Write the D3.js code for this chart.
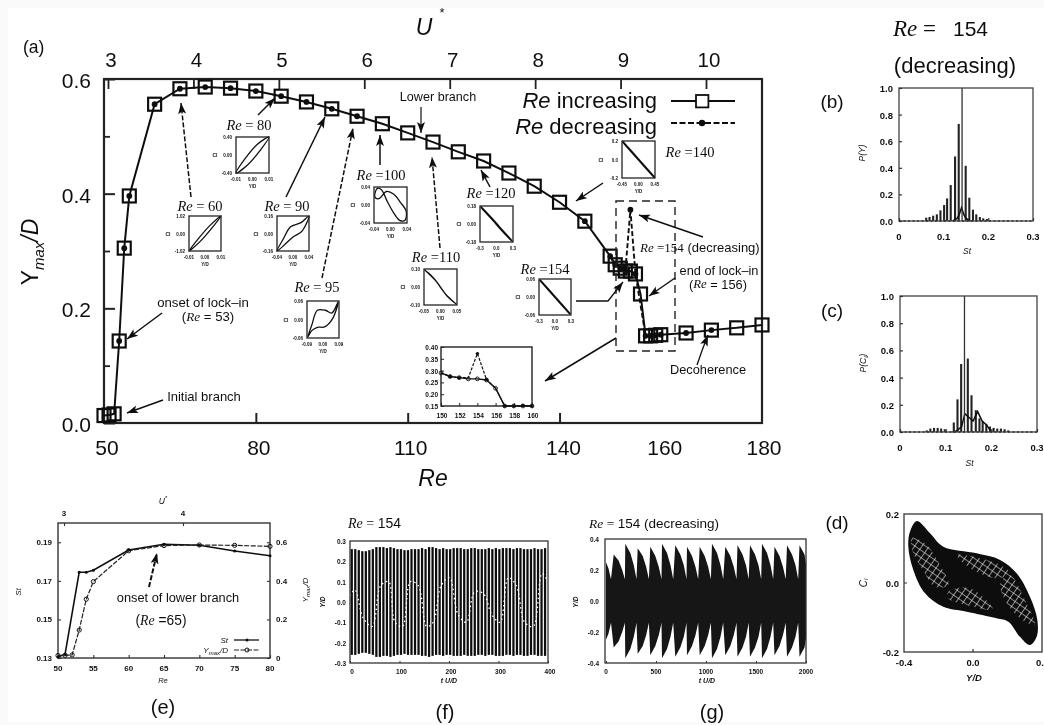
<!DOCTYPE html>
<html><head><meta charset="utf-8">
<style>html,body{margin:0;padding:0;background:#fafafa}svg{display:block}text{font-family:"Liberation Sans",Arial,sans-serif;fill:#111}</style>
<script src="https://d3js.org/d3.v7.min.js"></script></head><body>
<svg id="c" width="1044" height="725"></svg>
<script>
// ---------- main panel (a)
const reInc=[50,51,52,53,54,55,60,65,70,75,80,85,90,95,100,105,110,115,120,125,130,135,140,145,150,151,152,153,154,155,156,157,158,159,160,165,170,175,180];
const yInc=[.013,.014,.016,.143,.305,.396,.556,.583,.586,.584,.579,.570,.560,.548,.535,.522,.506,.490,.473,.457,.436,.413,.385,.352,.291,.276,.270,.265,.265,.260,.225,.152,.152,.153,.154,.157,.162,.166,.171];
const reDec=[53,54,55,60,65,70,75,80,85,90,95,100,145,150,151,152,153,154,155,157,158,159,160,165,170];
const yDec=[.143,.305,.396,.556,.583,.586,.584,.579,.570,.560,.548,.535,.352,.291,.276,.270,.265,.372,.260,.152,.152,.153,.154,.157,.162];
const reTicks=[50,80,110,140,160,180], uTicks=[3,4,5,6,7,8,9,10], yTicks=[0,.2,.4,.6], yMinor=[.1,.3,.5];
// ---------- zoomed inset 150-160
const zoomRe=[150,151,152,153,154,155,156,157,158,159,160];
const zoomInc=[.29,.275,.27,.265,.265,.26,.225,.15,.15,.15,.15];
const zoomDecRe=[150,151,152,153,154,155,156,157,158,159,160];
const zoomDec=[.29,.275,.27,.27,.372,.262,.225,.15,.15,.152,.15];
const zoomYTicks=[.15,.2,.25,.3,.35,.4], zoomXTicks=[150,152,154,156,158,160];
// ---------- small phase-portrait insets
const loops={
 re60:[[-1,-1],[-.4,-.28],[.3,.45],[1,1],[.4,.28],[-.3,-.45]],
 re80:[[-1,-1],[-.45,-.2],[.3,.6],[1,1],[.5,.3],[-.3,-.55]],
 re90:[[-1,-1],[-.6,-.3],[-.15,.38],[.5,.62],[1,1],[.55,.12],[0,-.2],[-.5,-.62]],
 re95:[[-.95,-.95],[-.7,-.3],[-.35,.5],[.15,.5],[.55,.35],[.95,.95],[.6,.05],[.1,-.4],[-.35,-.42],[-.7,-.6]],
 re100:[[-.95,.45],[-.8,.92],[-.55,.85],[-.2,.2],[.2,-.45],[.55,-.85],[.88,-.85],[.95,-.35],[.6,.15],[.2,.6],[-.25,.75],[-.7,.35]],
 re110:[[-.95,.95],[-.3,.36],[.4,-.5],[.95,-.95],[.3,-.38],[-.4,.48]],
 re120:[[-.95,.95],[-.2,.2],[.3,-.32],[.95,-.95],[.2,-.2],[-.3,.32]],
 re140:[[-.95,.95],[0,.01],[.95,-.95],[0,-.01]],
 re154:[[-.95,.95],[0,.01],[.95,-.95],[0,-.01]]};
const insetNames=["re60","re80","re90","re95","re100","re110","re120","re140","re154"];
const insetTitles=["60","80","90","95","100","110","120","140","154"];
const insetXLabels=[["-0.01","0.00","0.01"],["-0.01","0.00","0.01"],["-0.04","0.00","0.04"],["-0.09","0.00","0.09"],["-0.04","0.00","0.04"],["-0.05","0.00","0.05"],["-0.3","0.0","0.3"],["-0.45","0.00","0.45"],["-0.3","0.0","0.3"]];
const insetYLabels=[["1.02","0.00","-1.02"],["0.40","0.00","-0.40"],["0.16","0.00","-0.16"],["0.06","0.00","-0.06"],["0.04","0.00","-0.04"],["0.10","0.00","-0.10"],["0.18","0.00","-0.18"],["0.2","0.0","-0.2"],["0.06","0.00","-0.06"]];
// ---------- (b)
const bSt=[.0609,.0683,.0765,.0847,.0928,.101,.1077,.1158,.1255,.1337,.1493,.1574,.1656,.173,.181,.1886,.1968];
const bP=[.025,.03,.04,.05,.08,.12,.17,.27,.485,.73,.415,.175,.085,.05,.03,.02,.015];
const bPeakSt=[.12,.13,.135,.14,.145,.15,.16], bPeakP=[0,.02,.05,.1,.05,.02,0];
const lockSt=[.1412];
// ---------- (c)
const cSt=[.0585,.0665,.0745,.0825,.09,.098,.1178,.1259,.1339,.1485,.1566,.166,.174,.181,.189,.197,.205,.213,.221,.229,.237];
const cP=[.012,.025,.03,.03,.025,.02,.07,.24,.5,.54,.27,.16,.10,.08,.06,.04,.03,.025,.025,.02,.012];
const cPeakSt=[.115,.125,.135,.142,.15,.16,.17,.18,.19,.2], cPeakP=[0,.01,.04,.135,.11,.08,.15,.08,.05,0];
const stTicks=[0,.1,.2,.3], stLabels=["0","0.1","0.2","0.3"], pTicks=[0,.2,.4,.6,.8,1];
// ---------- (d)
const dOutX=[-.326,-.365,-.375,-.346,-.278,-.172,-.037,.137,.205,.272,.33,.369,.373,.33,.253,.157,.021,-.172,-.249];
const dOutY=[.18,.149,.105,.038,-.03,-.069,-.083,-.102,-.112,-.156,-.18,-.156,-.107,-.04,.028,.067,.086,.105,.144];
const dLobes=[
 [[-.355,.13],[-.278,.115],[-.191,.052],[-.143,-.006],[-.22,-.011],[-.297,.043],[-.346,.086]],
 [[.157,-.001],[.214,.023],[.301,-.049],[.359,-.122],[.272,-.102],[.186,-.049]],
 [[-.095,.081],[.137,.057],[.214,.028],[.137,.014],[-.017,.043]],
 [[-.143,-.025],[-.017,-.015],[.118,-.078],[-.037,-.064],[-.143,-.044]]];
// ---------- (e)
const eRe=[50,51,53,54,55,60,65,70,75,80], eSt=[.1305,.132,.1745,.1745,.1755,.186,.189,.1885,.1855,.183];
const eYRe=[50,51,52,53,54,55,60,65,70,75,80], eY=[.013,.014,.016,.145,.305,.396,.556,.583,.586,.584,.579];
const eXTicks=[50,55,60,65,70,75,80], eStTicks=[.13,.15,.17,.19], eYTicks=[0,.2,.4,.6];
// ---------- (f)
const fT=[3.5,10.6,17.7,24.8,31.9,39,46.1,53.2,60.3,67.4,74.5,81.6,88.7,95.8,102.9,110,117.1,124.2,131.3,138.4,145.5,152.6,159.7,166.8,173.9,181,188.1,195.2,202.3,209.4,216.5,223.6,230.7,237.8,244.9,252,259.1,266.2,273.3,280.4,287.5,294.6,301.7,308.8,315.9,323,330.1,337.2,344.3,351.4,358.5,365.6,372.7,379.8,386.9,394];
const fHi=[.26,.26,.255,.25,.25,.255,.26,.27,.27,.27,.265,.27,.265,.26,.26,.255,.255,.26,.26,.26,.265,.26,.27,.27,.265,.26,.265,.26,.26,.265,.265,.265,.26,.26,.265,.265,.26,.26,.26,.265,.26,.265,.26,.265,.265,.265,.26,.265,.265,.26,.26,.26,.265,.26,.26,.265];
const fLo=[-.26,-.26,-.255,-.25,-.25,-.255,-.26,-.27,-.27,-.265,-.265,-.27,-.265,-.26,-.26,-.255,-.26,-.26,-.26,-.26,-.265,-.265,-.27,-.265,-.26,-.26,-.265,-.26,-.26,-.265,-.265,-.265,-.26,-.265,-.265,-.265,-.26,-.26,-.265,-.26,-.26,-.265,-.265,-.265,-.26,-.26,-.265,-.26,-.26,-.265,-.265,-.26,-.26,-.265,-.265,-.265];
const fWaveT=[0,10,27,45,62,78,91,106,122,138,155,168,184,201,218,235,252,270,286,303,320,336,353,370,388,400];
const fWaveY=[.03,.06,-.08,-.12,.08,.1,-.1,-.12,.1,.08,-.12,-.1,.08,.12,-.06,-.1,.05,.04,-.06,-.1,.12,.08,-.1,-.12,.14,.1];
const fXTicks=[0,100,200,300,400], fYTicks=[-.3,-.2,-.1,0,.1,.2,.3];
// ---------- (g)
const gT=[0,25,50,77,127,162,189,193,243,278,305,317,367,402,429,443,493,528,555,560,610,645,672,693,743,778,805,810,860,895,922,937,987,1022,1049,1060,1110,1145,1172,1193,1243,1278,1305,1315,1365,1400,1427,1440,1490,1525,1552,1560,1610,1645,1672,1685,1735,1770,1797,1810,1860,1895,1922,1935,1985,2000];
const gY=[.25,.21,.14,.30,.26,.2,.14,.37,.31,.23,.14,.34,.29,.22,.14,.35,.29,.22,.14,.37,.31,.23,.14,.36,.3,.23,.14,.35,.29,.22,.14,.35,.29,.22,.14,.37,.31,.23,.14,.35,.29,.22,.14,.36,.3,.23,.14,.36,.3,.23,.14,.37,.31,.23,.14,.35,.29,.22,.14,.36,.3,.23,.14,.36,.3,.24];
const gXTicks=[0,500,1000,1500,2000], gYTicks=[-.4,-.2,0,.2,.4];

// ---------- helpers
const svg=d3.select("#c");
const defs=svg.append("defs");
defs.append("filter").attr("id","soft").attr("x",0).attr("y",0).attr("width",1).attr("height",1)
  .attr("filterUnits","objectBoundingBox").append("feGaussianBlur").attr("stdDeviation",.45);
defs.append("marker").attr("id","ah").attr("markerUnits","userSpaceOnUse").attr("markerWidth",12).attr("markerHeight",10)
  .attr("refX",11).attr("refY",4).attr("orient","auto").append("path").attr("d","M0,0L11,4L0,8L2.5,4Z").attr("fill","#111");
const mesh=defs.append("pattern").attr("id","mesh").attr("patternUnits","userSpaceOnUse").attr("width",6).attr("height",6).attr("patternTransform","rotate(35)");
mesh.append("path").attr("d","M0,0H6M0,0V6").attr("stroke","#fff").attr("stroke-width",1.1).attr("fill","none");
const root=svg.append("g").attr("filter","url(#soft)");
root.append("rect").attr("x",8).attr("y",8).attr("width",1036).attr("height",714).attr("fill","#fff");
const SERIF='"Liberation Serif",serif';
function txt(x,y,parts,o={}){
  const t=root.append("text").attr("x",x).attr("y",y).attr("text-anchor",o.a||"middle").attr("dominant-baseline","central")
    .attr("font-size",o.s||11).attr("font-weight",o.w||"normal");
  if(o.r!==undefined)t.attr("transform",`rotate(${o.r} ${x} ${y})`);
  (Array.isArray(parts)?parts:[parts]).forEach(p=>{
    const q=typeof p==="string"?{t:p}:p;
    const s=t.append("tspan").text(q.t);
    if(q.i)s.attr("font-style","italic");
    if(q.serif)s.style("font-family",SERIF);
    if(q.sub)s.attr("baseline-shift","sub").attr("font-size",q.sub);
    if(q.sup)s.attr("baseline-shift","super").attr("font-size",q.sup);
  });
  return t;
}
function arrow(x1,y1,x2,y2,dash,w){
  root.append("path").attr("d",`M${x1},${y1}L${x2},${y2}`).attr("stroke","#111").attr("stroke-width",w||1.5)
   .attr("fill","none").attr("marker-end","url(#ah)").attr("stroke-dasharray",dash?"5 2":null);
}
function styleAxis(g,size,weight,col,sw){
  g.selectAll(".domain").remove();
  g.selectAll("line").attr("stroke",col).attr("stroke-width",sw);
  g.selectAll("text").remove();
}
function frame(x0,y0,x1,y1,sw,col){
  root.append("rect").attr("x",x0).attr("y",y0).attr("width",x1-x0).attr("height",y1-y0).attr("fill","none").attr("stroke",col||"#222").attr("stroke-width",sw);
}

// ---------- panel (a)
const L=104,R=762,T=79,B=423;
const x=d3.scaleLinear([50,180],[L,R]), y=d3.scaleLinear([0,.6],[B,T]), u=d3.scaleLinear([3,10],[108,706]);
frame(L,T,R,B,2.2);
styleAxis(root.append("g").attr("transform",`translate(0,${B})`).call(d3.axisBottom(x).tickValues(reTicks.slice(1,4)).tickSize(-10)),0,"normal","#222",2);
const reLabelShift=[3,3,3,4,4,2];
reTicks.forEach((v,i)=>txt(x(v)+reLabelShift[i],447,String(v),{s:21}));
styleAxis(root.append("g").attr("transform",`translate(0,${T})`).call(d3.axisTop(u).tickValues(uTicks).tickSize(-10)),0,"normal","#222",1.8);
uTicks.forEach(v=>txt(u(v)+3,59,String(v),{s:20.5}));
styleAxis(root.append("g").attr("transform",`translate(${L},0)`).call(d3.axisLeft(y).tickValues(yTicks).tickSize(-11)),0,"normal","#222",2);
styleAxis(root.append("g").attr("transform",`translate(${L},0)`).call(d3.axisLeft(y).tickValues(yMinor).tickSize(-6)),0,"normal","#222",1.8);
yTicks.forEach(v=>txt(91,y(v)+1,v.toFixed(1),{s:21,a:"end"}));
txt(23,47,"(a)",{s:17.5,a:"start"});
txt(433,478,[{t:"Re",i:1}],{s:23});
txt(424,27,[{t:"U",i:1}],{s:23}); txt(442,12,"*",{s:13});
txt(30,252,[{t:"Y"},{t:"max",i:1,sub:15},{t:"/D",i:1}],{s:23,r:-90});

const line=d3.line().x(d=>x(d[0])).y(d=>y(d[1]));
root.append("path").attr("d",line(d3.zip(reInc,yInc))).attr("fill","none").attr("stroke","#111").attr("stroke-width",2);
root.append("path").attr("d",line(d3.zip(reDec,yDec).filter(d=>d[0]>=150&&d[0]<=157))).attr("fill","none").attr("stroke","#111").attr("stroke-width",1.9).attr("stroke-dasharray","5 2.5");
root.append("g").selectAll("rect").data(d3.zip(reInc,yInc)).join("rect")
  .attr("x",d=>x(d[0])-6.5).attr("y",d=>y(d[1])-6.5).attr("width",13).attr("height",13)
  .attr("fill","none").attr("stroke","#111").attr("stroke-width",2.2);
root.append("g").selectAll("circle").data(d3.zip(reDec,yDec)).join("circle")
  .attr("cx",d=>x(d[0])).attr("cy",d=>y(d[1])).attr("r",2.9).attr("fill","#111");

// legend
txt(657,100,[{t:"Re",i:1}," increasing"],{s:22,a:"end"});
txt(657,125.5,[{t:"Re",i:1}," decreasing"],{s:22,a:"end"});
root.append("path").attr("d","M671,101H735").attr("stroke","#111").attr("stroke-width",1.8);
root.append("rect").attr("x",696).attr("y",95).attr("width",12.4).attr("height",12.4).attr("fill","#fff").attr("stroke","#111").attr("stroke-width",1.8);
root.append("path").attr("d","M671,123H735").attr("stroke","#111").attr("stroke-width",1.8).attr("stroke-dasharray","6 2.5");
root.append("circle").attr("cx",702).attr("cy",123).attr("r",3.2).attr("fill","#111");

// dashed selection box
root.append("rect").attr("x",616).attr("y",201).attr("width",59).attr("height",150).attr("fill","none").attr("stroke","#222").attr("stroke-width",1.4).attr("stroke-dasharray","8 5");

// insets
const insetBoxes=[[189,216,221,251],[236,137,269,173],[277,216,309,251],[307,301,339,338],[374,187,407,223],[424,269,457,305],[480,206,513,242],[622,141,655,178],[539,279,571,315]];
const insetTitlePos=[[200,206],[249,125],[287,206],[317,287],[381,175],[436,257],[491,193],[690,152],[545,269]];
insetNames.forEach((n,i)=>{
  const [a,b,c,d]=insetBoxes[i];
  const sx=d3.scaleLinear([-1,1],[a,c]), sy=d3.scaleLinear([-1,1],[d,b]);
  root.append("path").datum(loops[n]).attr("d",d3.line().x(p=>sx(p[0])).y(p=>sy(p[1])).curve(d3.curveCatmullRomClosed.alpha(.5)))
    .attr("fill","none").attr("stroke","#111").attr("stroke-width",i>=6?2:1.3);
  frame(a,b,c,d,1.3);
  const mx=(a+c)/2,my=(b+d)/2;
  [b,my,d].forEach((yy,k)=>txt(a-4,yy,insetYLabels[i][k],{s:4.5,a:"end",w:"bold"}));
  [a,mx,c].forEach((xx,k)=>txt(xx,d+6,insetXLabels[i][k],{s:4.5,w:"bold"}));
  txt(mx,d+13,"Y/D",{s:4.5,w:"bold"});
  txt(a-21,my,"Cl",{s:5,w:"bold"});
  txt(insetTitlePos[i][0],insetTitlePos[i][1],[{t:"Re",i:1,serif:1},{t:" ="+(i<4?" ":"")+insetTitles[i],serif:1}],{s:14.5});
});

// 150-160 zoom inset
const zx=d3.scaleLinear([150,160],[441,532]), zy=d3.scaleLinear([.15,.4],[406,347]);
frame(441,347,532,406,1.4);
const zl=d3.line().x(d=>zx(d[0])).y(d=>zy(d[1]));
root.append("path").attr("d",zl(d3.zip(zoomRe,zoomInc))).attr("fill","none").attr("stroke","#111").attr("stroke-width",1.4);
root.append("path").attr("d",zl(d3.zip(zoomDecRe,zoomDec))).attr("fill","none").attr("stroke","#111").attr("stroke-width",1.2).attr("stroke-dasharray","3 1.5");
root.append("g").selectAll("circle").data(d3.zip(zoomRe,zoomInc)).join("circle").attr("cx",d=>zx(d[0])).attr("cy",d=>zy(d[1])).attr("r",1.9).attr("fill","none").attr("stroke","#111").attr("stroke-width",.9);
root.append("g").selectAll("circle").data(d3.zip(zoomDecRe,zoomDec).filter(d=>![150,153,156].includes(d[0]))).join("circle").attr("cx",d=>zx(d[0])).attr("cy",d=>zy(d[1])).attr("r",1.7).attr("fill","#111");
zoomYTicks.forEach(v=>txt(438,zy(v),v.toFixed(2),{s:6.5,a:"end",w:"bold"}));
zoomXTicks.forEach(v=>txt(zx(v)+1,415,String(v),{s:6.5,w:"bold"}));
styleAxis(root.append("g").attr("transform","translate(0,406)").call(d3.axisBottom(zx).tickValues(zoomXTicks).tickSize(-3)),0,"normal","#222",1);
styleAxis(root.append("g").attr("transform","translate(441,0)").call(d3.axisLeft(zy).tickValues(zoomYTicks).tickSize(-3)),0,"normal","#222",1);

// annotations
arrow(191,197,181,103,true,1.5); arrow(258,115,275,98); arrow(286,197,325,117);
arrow(322,278,353,128,true,1.5); arrow(380,165,380,135); arrow(421,107,421,133,false,1.2);
arrow(440,248,432,157,true,1.5); arrow(490,187,481,170); arrow(603,183,576,201);
arrow(703,237,639,215); arrow(675,278,649,296); arrow(616,338,545,381);
arrow(162,313,127,339); arrow(163,400,127,413);
root.append("path").attr("d","M697,365Q702,350 708,335").attr("stroke","#111").attr("stroke-width",1.3).attr("fill","none").attr("marker-end","url(#ah)");
root.append("path").attr("d","M576,301H608L623,282").attr("stroke","#111").attr("stroke-width",1.3).attr("fill","none").attr("marker-end","url(#ah)");
txt(438,97,"Lower branch",{s:12.6});
txt(640,247,[{t:"Re",i:1,serif:1},{t:" =154",serif:1}," (decreasing)"],{s:13,a:"start"});
txt(719,270,"end of lock\u2013in",{s:12.8}); txt(718,284,["(",{t:"Re",i:1,serif:1}," = 156)"],{s:12.8});
txt(708,369,"Decoherence",{s:12.8});
txt(203,302,"onset of lock\u2013in",{s:13.2}); txt(208,316,["(",{t:"Re",i:1,serif:1}," = 53)"],{s:13.2});
txt(204,396,"Initial branch",{s:13});

// ---------- spectra (b), (c)
function spectrum(x0,x1,y0,y1,sts,ps,pkS,pkP,ylab,yly,xlabY){
  const sx=d3.scaleLinear([0,.3],[x0,x1]), sy=d3.scaleLinear([0,1],[y1,y0]);
  root.append("g").selectAll("line").data(d3.zip(sts,ps)).join("line").attr("x1",d=>sx(d[0])).attr("x2",d=>sx(d[0])).attr("y1",y1).attr("y2",d=>sy(d[1])).attr("stroke","#222").attr("stroke-width",2.1);
  root.append("path").attr("d",d3.line().x(d=>sx(d[0])).y(d=>sy(d[1]))(d3.zip(pkS,pkP))).attr("fill","none").attr("stroke","#111").attr("stroke-width",1.5);
  root.append("line").attr("x1",sx(lockSt[0])).attr("x2",sx(lockSt[0])).attr("y1",y0).attr("y2",y1).attr("stroke","#333").attr("stroke-width",1.3);
  root.append("line").attr("x1",x0).attr("x2",x1).attr("y1",y1).attr("y2",y1).attr("stroke","#111").attr("stroke-width",1.6).attr("stroke-dasharray","2 2.5");
  frame(x0,y0,x1,y1,1.3,"#444");
  styleAxis(root.append("g").attr("transform",`translate(${x0},0)`).call(d3.axisLeft(sy).tickValues(pTicks).tickSize(-3)),0,"normal","#333",1.2);
  styleAxis(root.append("g").attr("transform",`translate(0,${y1})`).call(d3.axisBottom(sx).tickValues(stTicks).tickSize(-3)),0,"normal","#333",1.2);
  pTicks.forEach(v=>txt(x0-6,sy(v),v.toFixed(1),{s:9.5,a:"end",w:"bold"}));
  stTicks.forEach((v,i)=>txt(sx(v),y1+15,stLabels[i],{s:9.5,w:"bold"}));
  txt(x0-37,yly,ylab,{s:8.5,r:-90});
  txt((x0+x1)/2+1,xlabY,[{t:"St",i:1}],{s:8.5});
}
spectrum(899,1033,88,221,bSt,bP,bPeakSt,bPeakP,[{t:"P(Y)",i:1}],153,251);
spectrum(900,1037,296,432,cSt,cP,cPeakSt,cPeakP,[{t:"P(C",i:1},{t:"l",i:1,sub:6},{t:")",i:1}],363,463);
txt(893,28,[{t:"Re",i:1,serif:1},{t:" =",serif:1}],{s:23,a:"start"});
txt(953,28,"154",{s:21,a:"start"});
txt(955,65,"(decreasing)",{s:22});
txt(832,101,"(b)",{s:19}); txt(832,310,"(c)",{s:19}); txt(837,522,"(d)",{s:19});

// ---------- (d)
const dx=d3.scaleLinear([-.4,.4],[904,1042]), dy=d3.scaleLinear([-.2,.2],[652,514]);
const dl=d3.line().x(d=>dx(d[0])).y(d=>dy(d[1])).curve(d3.curveCatmullRomClosed.alpha(.5));
root.append("path").attr("d",dl(d3.zip(dOutX,dOutY))).attr("fill","#0d0d0d");
dLobes.forEach(p=>root.append("path").attr("d",dl(p)).attr("fill","url(#mesh)"));
frame(904,514,1042,652,1.4,"#444");
[[.2,"0.2"],[0,"0.0"],[-.2,"-0.2"]].forEach(([v,s])=>txt(899,dy(v),s,{s:9.5,a:"end",w:"bold"}));
[[-.4,"-0.4"],[0,"0.0"],[.4,"0.4"]].forEach(([v,s])=>txt(v===.4?1044:dx(v),662,v===.4?"0.":s,{s:9.5,w:"bold",a:v===.4?"end":"middle"}));
txt(974,677,[{t:"Y/D",i:1}],{s:9.5,w:"bold"});
txt(863,583,[{t:"C",i:1},{t:"l",i:1,sub:6}],{s:10,r:-90});
root.append("path").attr("d","M904,583h3M973,652v-3").attr("stroke","#333").attr("stroke-width",1.2);

// ---------- (e)
const ex=d3.scaleLinear([50,80],[58,270]), eys=d3.scaleLinear([.13,.2],[658,523]), eyy=d3.scaleLinear([0,.7],[658,523]), eu=d3.scaleLinear([3,4],[64,183]);
frame(58,523,270,658,1.4,"#333");
styleAxis(root.append("g").attr("transform","translate(0,658)").call(d3.axisBottom(ex).tickValues(eXTicks).tickSize(-3)),0,"normal","#333",1.1);
styleAxis(root.append("g").attr("transform","translate(58,0)").call(d3.axisLeft(eys).tickValues(eStTicks).tickSize(-3)),0,"normal","#333",1.1);
styleAxis(root.append("g").attr("transform","translate(270,0)").call(d3.axisRight(eyy).tickValues(eYTicks).tickSize(-3)),0,"normal","#333",1.1);
styleAxis(root.append("g").attr("transform","translate(0,523)").call(d3.axisTop(eu).tickValues([3,4]).tickSize(-3)),0,"normal","#333",1.1);
root.append("path").attr("d",d3.line().x(d=>ex(d[0])).y(d=>eys(d[1]))(d3.zip(eRe,eSt))).attr("fill","none").attr("stroke","#111").attr("stroke-width",1.6);
root.append("path").attr("d",d3.line().x(d=>ex(d[0])).y(d=>eyy(d[1]))(d3.zip(eYRe,eY))).attr("fill","none").attr("stroke","#222").attr("stroke-width",1.2).attr("stroke-dasharray","5 1.5");
root.append("g").selectAll("circle").data(d3.zip(eRe,eSt)).join("circle").attr("cx",d=>ex(d[0])).attr("cy",d=>eys(d[1])).attr("r",1.5).attr("fill","#111");
root.append("g").selectAll("circle").data(d3.zip(eYRe,eY)).join("circle").attr("cx",d=>ex(d[0])).attr("cy",d=>eyy(d[1])).attr("r",2.1).attr("fill","none").attr("stroke","#111").attr("stroke-width",1);
eXTicks.forEach(v=>txt(ex(v),668,String(v),{s:8,w:"bold"}));
eStTicks.forEach(v=>txt(52,eys(v),v.toFixed(2),{s:8,a:"end",w:"bold"}));
eYTicks.forEach(v=>txt(276,eyy(v),v===0?"0":v.toFixed(1),{s:8,a:"start",w:"bold"}));
txt(64,513,"3",{s:8,w:"bold"}); txt(183,513,"4",{s:8,w:"bold"});
txt(163,501,[{t:"U",i:1},{t:"*",sup:6}],{s:8.5});
txt(163,680,[{t:"Re",i:1}],{s:7.5});
txt(18,592,[{t:"St",i:1}],{s:8,r:-90});
txt(305,590,[{t:"Y",i:1},{t:"max",i:1,sub:6},{t:"/D",i:1}],{s:8,r:-90});
txt(178,597,"onset of lower branch",{s:12.8});
txt(161,620,["(",{t:"Re",i:1,serif:1}," =65)"],{s:13.8});
arrow(149,587,157,553,true,2);
txt(228,640,[{t:"St",i:1}],{s:8,a:"end"}); txt(228,650,[{t:"Y",i:1},{t:"max",i:1,sub:6},{t:"/D",i:1}],{s:8,a:"end"});
root.append("path").attr("d","M234,640H259").attr("stroke","#111").attr("stroke-width",1.3);
root.append("circle").attr("cx",247).attr("cy",640).attr("r",1.5).attr("fill","#111");
root.append("path").attr("d","M234,650H259").attr("stroke","#222").attr("stroke-width",1.1).attr("stroke-dasharray","5 1.5");
root.append("circle").attr("cx",247).attr("cy",650).attr("r",2).attr("fill","none").attr("stroke","#111");
txt(163,707,"(e)",{s:20});

// ---------- (f)
const fx=d3.scaleLinear([0,400],[350,548]), fy=d3.scaleLinear([-.3,.3],[663,541]);
root.append("g").selectAll("rect").data(d3.zip(fT,fHi,fLo)).join("rect").attr("x",d=>fx(d[0])-1.1).attr("width",2.25)
  .attr("y",d=>fy(d[1])).attr("height",d=>fy(d[2])-fy(d[1])).attr("fill","#0c0c0c");
root.append("path").attr("d",d3.line().x(d=>fx(d[0])).y(d=>fy(d[1])).curve(d3.curveCatmullRom)(d3.zip(fWaveT,fWaveY))).attr("fill","none").attr("stroke","#fff").attr("stroke-width",1.3).attr("stroke-dasharray","1.5 3");
frame(350,541,548,663,1.3,"#333");
styleAxis(root.append("g").attr("transform","translate(0,663)").call(d3.axisBottom(fx).tickValues(fXTicks).tickSize(-2)),0,"normal","#333",1);
fXTicks.forEach(v=>txt(fx(v)+2,671,String(v),{s:6.5,w:"bold"}));
fYTicks.forEach(v=>txt(346,fy(v),v.toFixed(1),{s:6.5,a:"end",w:"bold"}));
txt(322,602,[{t:"Y/D",i:1}],{s:6.5,r:-90,w:"bold"});
txt(449,680,[{t:"t U/D",i:1}],{s:7,w:"bold"});
txt(348,523,[{t:"Re",i:1,serif:1},{t:" = ",serif:1},"154"],{s:14,a:"start"});
txt(445,712,"(f)",{s:20});

// ---------- (g)
const gx=d3.scaleLinear([0,2000],[606,806]), gy=d3.scaleLinear([-.4,.4],[663,539]);
root.append("path").datum(d3.zip(gT,gY)).attr("d",d3.area().x(d=>gx(d[0])).y0(d=>gy(-d[1])).y1(d=>gy(d[1]))).attr("fill","#141414");
frame(605,539,806,663,1.3,"#333");
styleAxis(root.append("g").attr("transform","translate(0,663)").call(d3.axisBottom(gx).tickValues(gXTicks).tickSize(-2)),0,"normal","#333",1);
gXTicks.forEach(v=>txt(gx(v),671,String(v),{s:6.5,w:"bold"}));
gYTicks.forEach(v=>txt(599,gy(v),v.toFixed(1),{s:6.5,a:"end",w:"bold"}));
txt(575,602,[{t:"Y/D",i:1}],{s:6.5,r:-90,w:"bold"});
txt(707,680,[{t:"t U/D",i:1}],{s:7,w:"bold"});
txt(589,523,[{t:"Re",i:1,serif:1},{t:" = ",serif:1},"154 (decreasing)"],{s:13.5,a:"start"});
txt(712,712,"(g)",{s:20});
</script></body></html>
